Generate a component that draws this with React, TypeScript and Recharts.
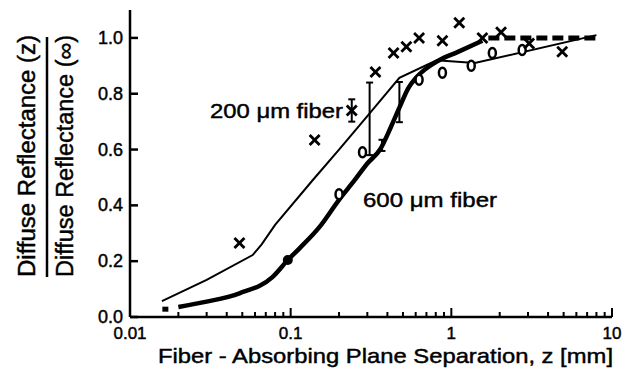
import React from 'react';
import { ComposedChart, Line, Scatter, XAxis, YAxis, ErrorBar } from 'recharts';

const FONT = '"Liberation Sans", Arial, Helvetica, sans-serif';

// axis ticks
const majorTicksX = [0.01, 0.1, 1, 10];
const minorTicksX = [
  0.02, 0.03, 0.04, 0.05, 0.06, 0.07, 0.08, 0.09,
  0.2, 0.3, 0.4, 0.5, 0.6, 0.7, 0.8, 0.9,
  2, 3, 4, 5, 6, 7, 8, 9,
];
const ticksY = [0, 0.2, 0.4, 0.6, 0.8, 1.0];

// 200 um fiber model (thin line)
const thin200 = [
  { z: 0.0158, r: 0.057 },
  { z: 0.03, r: 0.133 },
  { z: 0.058, r: 0.222 },
  { z: 0.066, r: 0.26 },
  { z: 0.08, r: 0.33 },
  { z: 0.137, r: 0.49 },
  { z: 0.2, r: 0.6 },
  { z: 0.3, r: 0.72 },
  { z: 0.475, r: 0.857 },
  { z: 0.81, r: 0.92 },
  { z: 1.4, r: 0.91 },
  { z: 8, r: 1.01 },
];

// 600 um fiber model (thick line + dashed tail)
const thick600 = [
  { z: 0.02, r: 0.036 },
  { z: 0.03, r: 0.055 },
  { z: 0.048, r: 0.085 },
  { z: 0.077, r: 0.143 },
  { z: 0.096, r: 0.204 },
  { z: 0.114, r: 0.247 },
  { z: 0.15, r: 0.32 },
  { z: 0.2, r: 0.42 },
  { z: 0.25, r: 0.49 },
  { z: 0.3, r: 0.55 },
  { z: 0.36, r: 0.6 },
  { z: 0.42, r: 0.68 },
  { z: 0.475, r: 0.75 },
  { z: 0.54, r: 0.82 },
  { z: 0.61, r: 0.86 },
  { z: 0.84, r: 0.92 },
  { z: 1.1, r: 0.95 },
  { z: 1.56, r: 0.99 },
];
const thick600Tail = [
  { z: 1.7, r: 1.0 },
  { z: 8, r: 1.0 },
];
const startBlocks = [{ z: 0.0166, r: 0.028 }];
const bigDot = [{ z: 0.096, r: 0.204 }];

// measured points
const cross200 = [
  { z: 0.048, r: 0.265 },
  { z: 0.141, r: 0.634 },
  { z: 0.24, r: 0.74 },
  { z: 0.337, r: 0.878 },
  { z: 0.437, r: 0.946 },
  { z: 0.525, r: 0.968 },
  { z: 0.63, r: 1.0 },
  { z: 0.88, r: 0.99 },
  { z: 1.12, r: 1.054 },
  { z: 1.56, r: 1.0 },
  { z: 2.04, r: 1.02 },
  { z: 3.05, r: 0.98 },
  { z: 4.9, r: 0.95 },
];
const circle600 = [
  { z: 0.2, r: 0.44 },
  { z: 0.28, r: 0.59 },
  { z: 0.63, r: 0.85 },
  { z: 0.88, r: 0.875 },
  { z: 1.33, r: 0.9 },
  { z: 1.8, r: 0.946 },
  { z: 2.76, r: 0.957 },
];
const errorBars = [
  { z: 0.24, r: 0.74, err: 0.04 },
  { z: 0.31, r: 0.71, err: 0.13 },
  { z: 0.37, r: 0.615, err: 0.02 },
  { z: 0.475, r: 0.77, err: 0.072 },
];

const textStyle = { fontFamily: FONT, fill: '#000', stroke: '#000', strokeWidth: 0.45 };

const XTick = (props: any) => {
  const { x, y, payload } = props;
  const v = payload.value;
  const major = majorTicksX.includes(v);
  return (
    <g>
      <line x1={x} x2={x} y1={y} y2={y - (major ? 9 : 5)} stroke="#000" strokeWidth={2} />
      {major && (
        <text x={x} y={y + 22} textAnchor="middle" fontSize={17} style={textStyle}>
          {String(v)}
        </text>
      )}
    </g>
  );
};

const YTick = (props: any) => {
  const { x, y, payload } = props;
  return (
    <g>
      <line x1={x} x2={x + 8} y1={y} y2={y} stroke="#000" strokeWidth={2.5} />
      <text x={x - 7} y={y + 6} textAnchor="end" fontSize={18} style={textStyle}>
        {payload.value.toFixed(1)}
      </text>
    </g>
  );
};

const CrossMark = (p: any) => {
  const { cx, cy } = p;
  const s = 5;
  return (
    <g stroke="#000" strokeWidth={2.8}>
      <line x1={cx - s} y1={cy - s} x2={cx + s} y2={cy + s} />
      <line x1={cx - s} y1={cy + s} x2={cx + s} y2={cy - s} />
    </g>
  );
};

const OvalMark = (p: any) => (
  <ellipse cx={p.cx} cy={p.cy} rx={3.5} ry={5} fill="#fff" stroke="#000" strokeWidth={2.5} />
);

const BlockMark = (p: any) => (
  <rect x={p.cx - 3} y={p.cy - 2.5} width={6} height={5} fill="#000" />
);

const DotMark = (p: any) => <circle cx={p.cx} cy={p.cy} r={5} fill="#000" />;

export default function App() {
  return (
    <div style={{ position: 'absolute', left: 0, top: 0, width: 636, height: 371, background: '#fff' }}>
      <ComposedChart width={636} height={371} margin={{ top: 10, right: 24, bottom: 0, left: 0 }}>
        <XAxis
          dataKey="z"
          type="number"
          scale="log"
          domain={[0.01, 10]}
          allowDataOverflow
          ticks={[...majorTicksX, ...minorTicksX]}
          interval={0}
          height={54}
          tickSize={0}
          tickMargin={0}
          tick={<XTick />}
          axisLine={{ stroke: '#000', strokeWidth: 2.5 }}
          tickLine={false}
        />
        <YAxis
          type="number"
          domain={[0, 1.1]}
          allowDataOverflow
          ticks={ticksY}
          interval={0}
          width={130}
          tickSize={0}
          tickMargin={0}
          tick={<YTick />}
          axisLine={{ stroke: '#000', strokeWidth: 2.5 }}
          tickLine={false}
        />
        <Line data={thin200} dataKey="r" type="linear" stroke="#000" strokeWidth={2} dot={false} isAnimationActive={false} />
        <Line data={thick600} dataKey="r" type="monotone" stroke="#000" strokeWidth={4.5} dot={false} isAnimationActive={false} />
        <Line data={thick600Tail} dataKey="r" type="linear" stroke="#000" strokeWidth={5} strokeDasharray="11 5" dot={false} isAnimationActive={false} />
        <Scatter data={startBlocks} dataKey="r" shape={(p: any) => <BlockMark {...p} />} isAnimationActive={false} />
        <Scatter data={bigDot} dataKey="r" shape={(p: any) => <DotMark {...p} />} isAnimationActive={false} />
        <Scatter data={errorBars} dataKey="r" shape={() => <g />} isAnimationActive={false}>
          <ErrorBar dataKey="err" direction="y" width={3.5} stroke="#000" strokeWidth={2} isAnimationActive={false} />
        </Scatter>
        <Scatter data={circle600} dataKey="r" shape={(p: any) => <OvalMark {...p} />} isAnimationActive={false} />
        <Scatter data={cross200} dataKey="r" shape={(p: any) => <CrossMark {...p} />} isAnimationActive={false} />
      </ComposedChart>
      <svg width={636} height={371} style={{ position: 'absolute', left: 0, top: 0, pointerEvents: 'none' }}>
        <g>
          <text x={210} y={118} fontSize={21} textLength={133} lengthAdjust="spacingAndGlyphs" style={textStyle}>200 μm fiber</text>
          <text x={363} y={207} fontSize={21} textLength={134} lengthAdjust="spacingAndGlyphs" style={textStyle}>600 μm fiber</text>
          <text x={158} y={363} fontSize={21} textLength={455} lengthAdjust="spacingAndGlyphs" style={textStyle}>
            Fiber - Absorbing Plane Separation, z [mm]
          </text>
          <text x={35} y={277} fontSize={23} textLength={242} lengthAdjust="spacingAndGlyphs" transform="rotate(-90 35 277)" style={textStyle}>
            Diffuse Reflectance (z)
          </text>
          <line x1={47} x2={47} y1={37} y2={277} stroke="#000" strokeWidth={2.5} />
          <text x={73} y={277} fontSize={23} textLength={242} lengthAdjust="spacingAndGlyphs" transform="rotate(-90 73 277)" style={textStyle}>
            Diffuse Reflectance (∞)
          </text>
        </g>
      </svg>
    </div>
  );
}
